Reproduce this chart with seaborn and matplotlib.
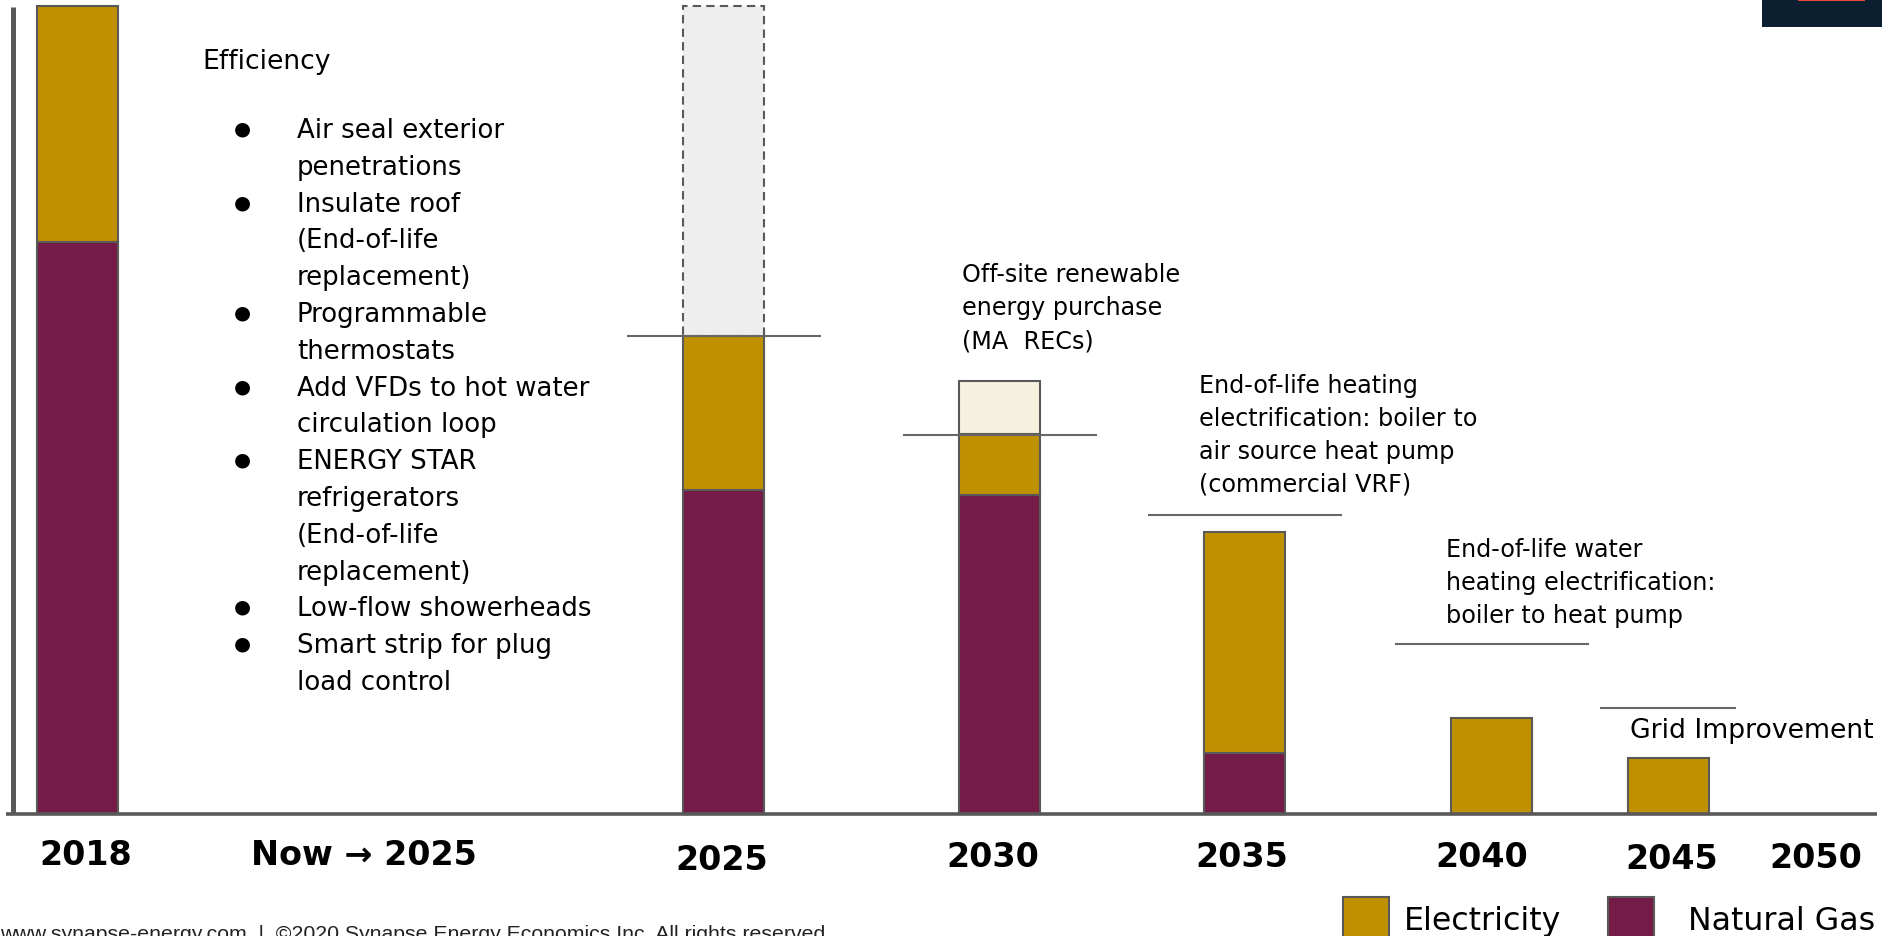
import numpy as np
import pandas as pd
import matplotlib
matplotlib.use("Agg")
import matplotlib.pyplot as plt
import matplotlib.transforms as mtransforms
from matplotlib.patches import Rectangle
import seaborn as sns

# ---------------- data ----------------
years = ["2018", "2025", "2030", "2035", "2040", "2045"]
natural_gas = [70.8, 40.1, 39.5, 7.5, np.nan, np.nan]
electricity = [29.2, 19.1, 7.5, 27.4, 11.9, 6.9]
offsite_recs = [np.nan, np.nan, 6.6, np.nan, np.nan, np.nan]
efficiency_gap = [np.nan, 40.8, np.nan, np.nan, np.nan, np.nan]
step_years = ["2025", "2030", "2035", "2040", "2045"]
step_levels = [59.2, 46.9, 37.0, 21.0, 13.1]
axis_labels = ["2018", "Now \u2192 2025", "2025", "2030", "2035", "2040", "2045", "2050"]
legend_labels = ["Electricity", "Natural Gas"]
efficiency_title = "Efficiency"
efficiency_measures = [
    ["Air seal exterior", "penetrations"],
    ["Insulate roof", "(End-of-life", "replacement)"],
    ["Programmable", "thermostats"],
    ["Add VFDs to hot water", "circulation loop"],
    ["ENERGY STAR", "refrigerators", "(End-of-life", "replacement)"],
    ["Low-flow showerheads"],
    ["Smart strip for plug", "load control"],
]
note_recs = ["Off-site renewable", "energy purchase", "(MA  RECs)"]
note_heating = ["End-of-life heating", "electrification: boiler to",
                "air source heat pump", "(commercial VRF)"]
note_water = ["End-of-life water", "heating electrification:", "boiler to heat pump"]
note_grid = "Grid Improvement"
footer = "www.synapse-energy.com  |  \u00a92020 Synapse Energy Economics Inc. All rights reserved."

# ---------------- layout (pixel units) ----------------
W, H = 1883, 937
bar_pos = [78, 724, 1000, 1245, 1492, 1668.5]
bar_px = 81
step_half = [97, 97, 97, 97, 68]
label_x = [85.5, 364, 721.5, 993, 1242, 1481.5, 1671.5, 1815.5]
label_base = [865.5, 865.5, 870, 867, 867, 867.5, 869, 868]
BASE_PIX, TOP_PIX = 815, 7
unit = (BASE_PIX - TOP_PIX) / 100.0

C_ELEC = "#BF9000"
C_GAS = "#741B47"
C_REC = "#F6F0DF"
C_GHOST = "#EEEEEE"
C_EDGE = "#595959"

sns.set_theme(style="white")
plt.rcParams["font.family"] = ["DejaVu Sans"]

fig = plt.figure(figsize=(W / 100, H / 100), dpi=100)
ax = fig.add_axes([0, 0, 1, 1])

def native_unit(pos):
    u = np.unique(pos)
    return float(np.min(np.diff(u))) if len(u) > 1 else 1.0

def layer(values, bottoms, face, ls="-"):
    df = pd.DataFrame({"pos": bar_pos, "val": values, "bottom": bottoms})
    sub = df.dropna(subset=["val"]).reset_index(drop=True)
    w = bar_px / native_unit(sub["pos"].values)
    sns.barplot(data=sub, x="pos", y="val", native_scale=True, orient="x",
                width=w, color=face, saturation=1, errorbar=None, ax=ax,
                bottom=sub["bottom"].values, edgecolor=C_EDGE, linewidth=1.5,
                linestyle=ls, zorder=3)

gas0 = np.nan_to_num(np.array(natural_gas, dtype=float))
elec0 = np.array(electricity, dtype=float)
layer(natural_gas, np.zeros(len(years)), C_GAS)
layer(electricity, gas0, C_ELEC)
layer(offsite_recs, gas0 + elec0, C_REC)
layer(efficiency_gap, gas0 + elec0, C_GHOST, ls=(0, (4, 2.5)))

# step (target) lines
for yr, lvl, hw in zip(step_years, step_levels, step_half):
    xc = bar_pos[years.index(yr)]
    ax.hlines(lvl, xc - hw, xc + hw, color="#666666", linewidth=1.5, zorder=4)

ax.set_xlim(0, W)
ax.set_ylim((BASE_PIX - H) / unit, BASE_PIX / unit)
ax.set_axis_off()

# axes lines
ax.hlines(0, 6, 1877, color=C_EDGE, linewidth=2.6, zorder=5)
ax.vlines(13.5, (BASE_PIX - 8) / unit, 0, color=C_EDGE, linewidth=3.6, zorder=5)

# pixel transform for text / decorations
T = mtransforms.Affine2D().scale(1 / W, -1 / H).translate(0, 1) + fig.transFigure

# x labels
for lab, x, yb in zip(axis_labels, label_x, label_base):
    fig.text(x, yb, lab, transform=T, ha="center", va="baseline",
             fontsize=24, fontweight="bold", color="black")

# efficiency list
fig.text(202, 68.6, efficiency_title, transform=T, fontsize=19.2, va="baseline", color="black")
line_h = 36.8
y = 138.0
for item in efficiency_measures:
    fig.text(242, y - 9, "\u25cf", transform=T, fontsize=14, ha="center",
             va="center", color="black")
    for ln in item:
        fig.text(297, y, ln, transform=T, fontsize=18.7, va="baseline", color="black")
        y += line_h

def block(lines, x, y0, size=17.2, lh=32.8):
    for i, ln in enumerate(lines):
        fig.text(x, y0 + i * lh, ln, transform=T, fontsize=size, va="baseline", color="black")

block(note_recs, 962, 282.5)
block(note_heating, 1199, 393, lh=33.0)
block(note_water, 1446, 557.5, lh=33.0)
fig.text(1630, 737.6, note_grid, transform=T, fontsize=19.2, va="baseline", color="black")

# legend
for (lab, sx, tx, col) in [(legend_labels[0], 1343, 1404, C_ELEC),
                          (legend_labels[1], 1608, 1688, C_GAS)]:
    fig.patches.append(Rectangle((sx, 898), 46, 45, transform=T, facecolor=col,
                                 edgecolor=C_EDGE, linewidth=1.5))
    fig.text(tx, 930.5, lab, transform=T, fontsize=22.8, va="baseline", color="black")

# footer
fig.text(0, 940, footer, transform=T, fontsize=15.3, va="baseline",
         family=["Liberation Sans", "DejaVu Sans"], color="#222222")

# top-right decoration
fig.patches.append(Rectangle((1762, -2), 125, 30, transform=T, facecolor="#0B1F30",
                             edgecolor="none"))
fig.patches.append(Rectangle((1798, -2), 67, 3.5, transform=T, facecolor="#E8473A",
                             edgecolor="none"))

fig.savefig("out.png", dpi=100)
